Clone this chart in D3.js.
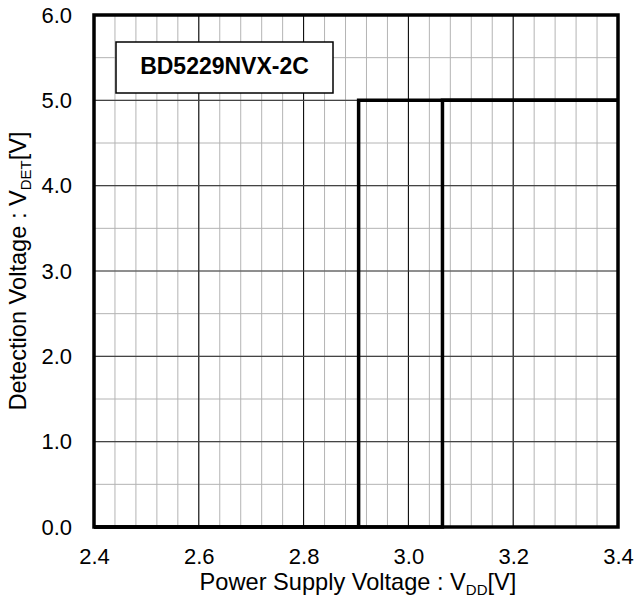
<!DOCTYPE html>
<html><head><meta charset="utf-8">
<script src="https://cdn.jsdelivr.net/npm/d3@7"></script>
<style>body{margin:0;background:#fff;} svg{display:block;font-family:"Liberation Sans",Arial,sans-serif;}</style>
</head><body>
<script>
const xTicks = [2.4, 2.6, 2.8, 3.0, 3.2, 3.4];
const yTicks = [0, 1, 2, 3, 4, 5, 6];
const xMinor = d3.range(2.4, 3.4001, 0.04).map(v => +v.toFixed(2));
const yMinor = d3.range(0, 6.001, 0.5).map(v => +v.toFixed(1));
// hysteresis trace: rising path then falling path
const risingX = [2.4, 2.905, 2.905, 3.4];
const risingY = [0, 0, 5.0, 5.0];
const fallingX = [3.4, 3.065, 3.065, 2.4];
const fallingY = [5.0, 5.0, 0, 0];
const labelText = "BD5229NVX-2C";

const W = 636, H = 609;
const m = {l: 94, r: 18, t: 15, b: 82};
const FF = "Liberation Sans, Arial, sans-serif";
const svg = d3.select("body").append("svg").attr("width", W).attr("height", H);
const x = d3.scaleLinear().domain([2.4, 3.4]).range([m.l, W - m.r]);
const y = d3.scaleLinear().domain([0, 6]).range([H - m.b, m.t]);

const g = svg.append("g");
// minor grid
g.selectAll(".vm").data(xMinor).enter().append("line")
  .attr("x1", d => x(d)).attr("x2", d => x(d)).attr("y1", y(0)).attr("y2", y(6))
  .attr("stroke", "#b4b4b4").attr("stroke-width", 1);
g.selectAll(".hm").data(yMinor).enter().append("line")
  .attr("y1", d => y(d)).attr("y2", d => y(d)).attr("x1", x(2.4)).attr("x2", x(3.4))
  .attr("stroke", "#b4b4b4").attr("stroke-width", 1);
// major grid
g.selectAll(".vM").data(xTicks).enter().append("line")
  .attr("x1", d => x(d)).attr("x2", d => x(d)).attr("y1", y(0)).attr("y2", y(6))
  .attr("stroke", "#000").attr("stroke-width", 1);
g.selectAll(".hM").data(yTicks).enter().append("line")
  .attr("y1", d => y(d)).attr("y2", d => y(d)).attr("x1", x(2.4)).attr("x2", x(3.4))
  .attr("stroke", "#444").attr("stroke-width", 1.2);

// label box
const bx = 116, by = 42;
svg.append("rect").attr("x", bx).attr("y", by).attr("width", 217).attr("height", 51)
  .attr("fill", "#fff").attr("stroke", "#000").attr("stroke-width", 1.5);
svg.append("text").attr("x", bx + 108.5).attr("y", 74).attr("text-anchor", "middle")
  .attr("font-size", 23).attr("font-weight", "bold").attr("font-family", FF).text(labelText);

// data lines
const line = d3.line().x(d => x(d[0])).y(d => y(d[1]));
svg.append("path").datum(risingX.map((v, i) => [v, risingY[i]])).attr("d", line)
  .attr("fill", "none").attr("stroke", "#000").attr("stroke-width", 3.5);
svg.append("path").datum(fallingX.map((v, i) => [v, fallingY[i]])).attr("d", line)
  .attr("fill", "none").attr("stroke", "#000").attr("stroke-width", 3.5);

// frame
svg.append("rect").attr("x", x(2.4)).attr("y", y(6)).attr("width", x(3.4) - x(2.4)).attr("height", y(0) - y(6))
  .attr("fill", "none").attr("stroke", "#000").attr("stroke-width", 3.5);

// axes labels
const xAxis = d3.axisBottom(x).tickValues(xTicks).tickFormat(d3.format(".1f")).tickSize(0).tickPadding(21);
const xa = svg.append("g").attr("transform", `translate(0,${y(0)})`).call(xAxis);
xa.select(".domain").remove();
xa.selectAll("text").attr("font-size", 22).attr("fill", "#000").attr("font-family", FF);
const yAxis = d3.axisLeft(y).tickValues(yTicks).tickFormat(d3.format(".1f")).tickSize(0).tickPadding(22);
const ya = svg.append("g").attr("transform", `translate(${x(2.4)},0)`).call(yAxis);
ya.select(".domain").remove();
ya.selectAll("text").attr("font-size", 22).attr("fill", "#000").attr("font-family", FF);

// titles
const xt = svg.append("text").attr("x", (x(2.4) + x(3.4)) / 2 + 2).attr("y", 590).attr("text-anchor", "middle").attr("font-size", 23.6).attr("font-family", FF);
xt.append("tspan").text("Power Supply Voltage : V");
xt.append("tspan").attr("font-size", 15).attr("dy", 5).text("DD");
xt.append("tspan").attr("dy", -5).text("[V]");
const yt = svg.append("text").attr("transform", `translate(26,${(y(0) + y(6)) / 2}) rotate(-90)`).attr("text-anchor", "middle").attr("font-size", 23.6).attr("font-family", FF);
yt.append("tspan").text("Detection Voltage : V");
yt.append("tspan").attr("font-size", 15).attr("dy", 5).text("DET");
yt.append("tspan").attr("dy", -5).text("[V]");
</script>
</body></html>
